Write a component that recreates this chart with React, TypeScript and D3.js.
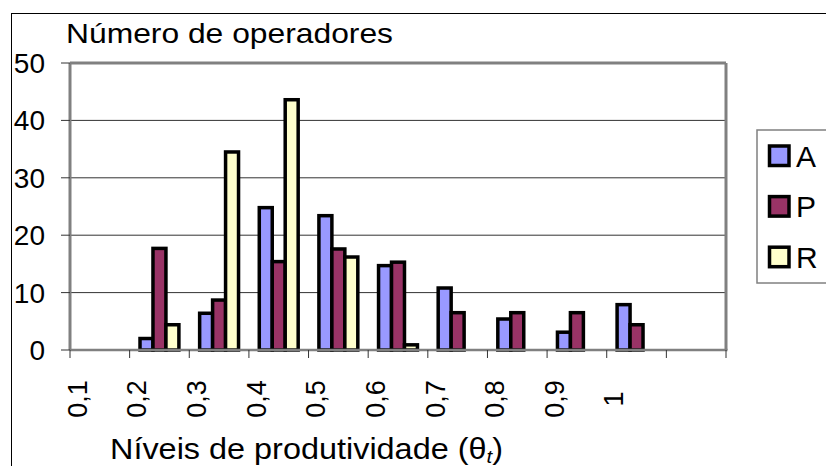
import React from "react";
import * as d3 from "d3";

// categories (the last slot is empty in the original chart)
const categories = ["0,1", "0,2", "0,3", "0,4", "0,5", "0,6", "0,7", "0,8", "0,9", "1", ""];
const seriesNames = ["A", "P", "R"];
const seriesColors = ["#9999FF", "#993366", "#FFFFCC"];

// values (null = no bar)
const valuesA = [null, 2.0, 6.4, 24.8, 23.4, 14.7, 10.8, 5.4, 3.1, 7.9, null];
const valuesP = [null, 17.7, 8.7, 15.4, 17.6, 15.3, 6.5, 6.5, 6.5, 4.4, null];
const valuesR = [null, 4.4, 34.5, 43.6, 16.2, 0.9, null, null, null, null, null];

const yTicks = [0, 10, 20, 30, 40, 50];

const font = "'Liberation Sans', Arial, sans-serif";

export default function App() {
  // plot area
  const left = 70, right = 726, top = 63, bottom = 350;

  const x = d3.scaleBand().domain(categories.map((c, i) => String(i))).range([left, right]).padding(0);
  const xSub = d3.scaleBand().domain(seriesNames).range([0, x.bandwidth()]).paddingInner(0).paddingOuter(0.8);
  const y = d3.scaleLinear().domain([0, 50]).range([bottom, top]);

  const allSeries = [valuesA, valuesP, valuesR];

  return (
    <svg width={826} height={466} style={{ position: "absolute", left: 0, top: 0, background: "#fff" }} fontFamily={font}>
      {/* chart border */}
      <rect x={11.5} y={13.5} width={900} height={600} fill="#fff" stroke="#000" strokeWidth={1} />

      {/* title */}
      <text x={66} y={43} fontSize={28} textLength={327} lengthAdjust="spacingAndGlyphs" fill="#000">Número de operadores</text>

      {/* gridlines */}
      {yTicks.filter(t => t > 0 && t < 50).map(t => (
        <line key={"g" + t} x1={left} x2={right} y1={y(t)} y2={y(t)} stroke="#333" strokeWidth={1} />
      ))}

      {/* plot area frame */}
      <line x1={left} x2={right} y1={top} y2={top} stroke="#808080" strokeWidth={3} />
      <line x1={right} x2={right} y1={top} y2={bottom} stroke="#808080" strokeWidth={3} />
      <line x1={left} x2={left} y1={top} y2={bottom} stroke="#808080" strokeWidth={3} />

      {/* y ticks and labels */}
      {yTicks.map(t => (
        <g key={"y" + t}>
          <line x1={61} x2={left} y1={y(t)} y2={y(t)} stroke="#333" strokeWidth={1} />
          <text x={45} y={y(t)} dy="0.36em" textAnchor="end" fontSize={28} fill="#000">{t}</text>
        </g>
      ))}

      {/* bars */}
      {allSeries.map((vals, si) =>
        vals.map((v, ci) => v == null ? null : (
          <rect key={si + "-" + ci}
            x={(x(String(ci)) || 0) + (xSub(seriesNames[si]) || 0)}
            y={y(v)}
            width={xSub.bandwidth()}
            height={y(0) - y(v)}
            fill={seriesColors[si]} stroke="#000" strokeWidth={3.5} />
        ))
      )}

      {/* x axis */}
      <line x1={left} x2={right + 1.5} y1={bottom} y2={bottom} stroke="#808080" strokeWidth={2.5} />
      {d3.range(categories.length + 1).map(i => {
        const xx = i < categories.length ? (x(String(i)) || 0) : right;
        return <line key={"xt" + i} x1={xx} x2={xx} y1={bottom} y2={bottom + 8} stroke="#333" strokeWidth={1} />;
      })}
      {categories.map((c, i) => (
        <text key={"xl" + i} transform={`translate(${(x(String(i)) || 0) + 7},399) rotate(-90)`}
          textAnchor="middle" dy="0.36em" fontSize={27} fill="#000">{c}</text>
      ))}

      {/* x axis title */}
      <text x={110} y={459} fontSize={30} textLength={393} lengthAdjust="spacingAndGlyphs" fill="#000">
        Níveis de produtividade (θ<tspan fontStyle="italic" fontSize={19} dy={4}>t</tspan><tspan dy={-4}>)</tspan>
      </text>

      {/* legend */}
      <rect x={757} y={130} width={120} height={153} fill="#fff" stroke="#808080" strokeWidth={1.5} />
      {seriesNames.map((s, i) => {
        const cy = 155.5 + i * 50.6;
        return (
          <g key={"lg" + s}>
            <rect x={769.5} y={cy - 9.5} width={19.5} height={19.5} fill={seriesColors[i]} stroke="#000" strokeWidth={3.5} />
            <text x={796} y={cy + 11} fontSize={30} fill="#000">{s}</text>
          </g>
        );
      })}
    </svg>
  );
}
